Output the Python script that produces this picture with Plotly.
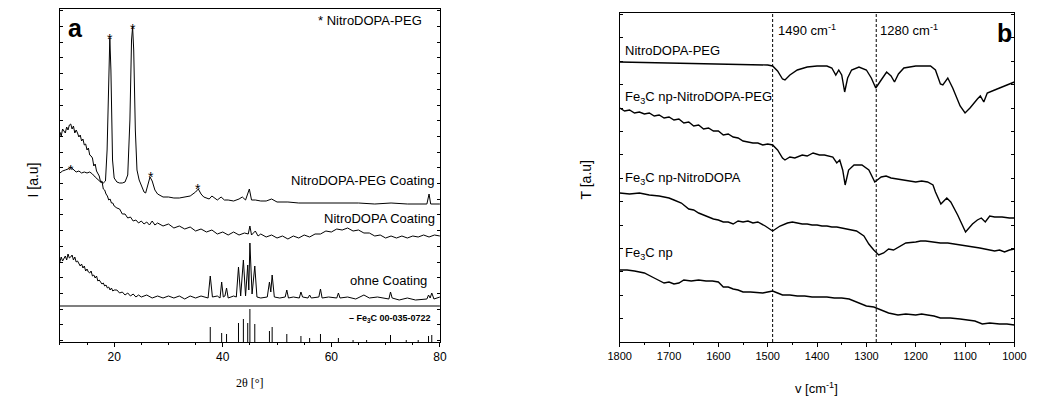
import plotly.graph_objects as go

# ---------------- Panel a : XRD ----------------
two_theta_peg = [10, 10.5, 11, 11.5, 12, 12.5, 13, 13.5, 14, 14.5, 15, 15.5, 16, 16.5, 17, 17.5, 18, 18.4,
                 18.7, 19.0, 19.2, 19.4, 19.7, 20.0, 20.5, 21, 21.5, 22, 22.5, 22.9, 23.2, 23.4, 23.6, 23.9,
                 24.2, 24.6, 25, 25.5, 25.8, 26.2, 26.6, 27.0, 27.5, 28, 29, 30, 31, 32, 33, 34, 35, 35.5,
                 36, 36.5, 37.5, 38, 39, 39.7, 40.3, 41, 42, 43, 43.6, 44.2, 44.9, 45.3, 46, 47, 48, 49, 50,
                 52, 54, 56, 58, 60, 62, 65, 68, 71, 74, 76, 77.6, 78.0, 78.3, 80]
i_peg = [169, 171, 172, 173, 175, 172, 170, 171, 169, 170, 169, 170, 168, 165, 162, 160, 159, 161,
         192, 282, 304, 272, 182, 164, 160, 159, 159, 160, 167, 222, 302, 315, 292, 212,
         172, 162, 156, 150, 149, 156, 165, 161, 152, 148, 145, 145, 144, 144, 145, 146, 150, 153,
         148, 145, 143, 146, 142, 145, 142, 142, 141, 143, 145, 142, 153, 142, 142, 141, 141, 143, 140,
         140, 139, 139, 139, 139, 139, 139, 138, 139, 138, 138, 138, 148, 138, 138]

two_theta_dopa = [10, 10.25, 10.5, 10.75, 11, 11.25, 11.5, 11.75, 12, 12.25, 12.5, 12.75, 13, 13.25, 13.5,
                  13.75, 14, 14.25, 14.5, 14.75, 15, 15.25, 15.5, 15.75, 16, 16.25, 16.5, 16.75, 17, 17.25,
                  17.5, 17.75, 18, 18.25, 18.5, 18.75, 19, 19.25, 19.5, 19.75, 20, 20.5, 21, 21.5, 22, 22.5,
                  23, 23.5, 24, 24.5, 25, 25.5, 26, 26.5, 27, 27.5, 28, 29, 30, 31, 32, 33, 34, 35, 36, 37,
                  38, 39, 40, 41, 42, 43, 44, 44.7, 45.0, 45.3, 46, 46.5, 47, 48, 49, 50, 51, 52, 53, 54, 55,
                  56, 57, 58, 59, 60, 61, 62, 63, 64, 65, 66, 67, 68, 69, 70, 71, 72, 73, 74, 75, 76, 77, 78,
                  79, 80]
i_dopa = [210, 206, 213, 211, 209, 215, 212, 217, 218, 213, 216, 209, 212, 209, 205,
          207, 201, 203, 197, 198, 192, 194, 187, 186, 184, 176, 178, 171, 168, 166,
          160, 161, 153, 152, 148, 146, 142, 143, 139, 139, 136, 134, 133, 128, 128, 124,
          125, 121, 122, 119, 121, 118, 120, 117, 121, 117, 119, 116, 118, 114, 116, 113, 115, 111, 113, 110,
          112, 108, 110, 107, 110, 107, 109, 108, 116, 107, 111, 106, 108, 105, 107, 104, 106, 103, 106, 104, 107,
          105, 108, 108, 111, 110, 113, 112, 114, 111, 112, 109, 109, 106, 107, 104, 106, 104, 106, 104, 106, 105, 107, 105,
          107, 106]

two_theta_bare = [10, 10.25, 10.5, 10.75, 11, 11.25, 11.5, 11.75, 12, 12.25, 12.5, 12.75, 13, 13.25, 13.5,
                  13.75, 14, 14.25, 14.5, 14.75, 15, 15.25, 15.5, 15.75, 16, 16.25, 16.5, 16.75, 17, 17.25,
                  17.5, 17.75, 18, 18.25, 18.5, 18.75, 19, 19.25, 19.5, 19.75, 20, 20.5, 21, 21.5, 22, 22.5,
                  23, 23.5, 24, 24.5, 25, 26, 27, 28, 29, 30, 31, 32, 33, 34, 35, 36, 37.3, 37.7, 38.1, 39,
                  39.5, 39.8, 40.1, 40.4, 40.7, 41.0, 42, 42.5, 42.9, 43.3, 43.8, 44.2, 44.6, 44.8, 45.0, 45.4,
                  45.9, 46.3, 47, 48.2, 48.6, 48.85, 49.1, 49.5, 50.5, 51.5, 51.8, 52.1, 53, 54.1, 54.4, 54.7,
                  55.7, 56.0, 56.3, 57.7, 58.0, 58.3, 59.5, 61.0, 61.3, 61.6, 63, 64.5, 66, 67, 68.5, 70.6,
                  70.9, 71.2, 72.5, 74, 75.5, 77.6, 77.9, 78.2, 78.5, 78.9, 80]
i_bare = [80, 85, 81, 83, 86, 82, 88, 84, 85, 87, 82, 85, 80, 81, 79,
          76, 78, 74, 76, 71, 73, 70, 69, 71, 66, 67, 64, 66, 61, 62,
          60, 58, 59, 56, 57, 54, 55, 52, 54, 51, 52, 52, 49, 50, 47, 49,
          46, 48, 45, 47, 45, 47, 44, 46, 44, 46, 44, 46, 43, 46, 44, 46, 44, 66, 45, 46,
          44, 60, 45, 46, 54, 44, 46, 45, 75, 46, 82, 46, 77, 52, 99, 48,
          76, 45, 44, 45, 60, 50, 67, 45, 44, 45, 52, 44, 45, 44, 50, 45,
          44, 47, 44, 45, 53, 44, 45, 44, 49, 44, 45, 43, 47, 44, 45, 43,
          50, 44, 42, 44, 42, 43, 47, 44, 49, 43, 45]

# Fe3C reference pattern 00-035-0722
ref_pos = [37.7, 39.8, 40.7, 42.9, 43.8, 44.6, 45.0, 45.9, 48.6, 49.1, 51.8, 54.4, 56.0, 58.0, 61.3,
           64.0, 66.5, 70.9, 73.8, 76.0, 77.9, 78.5]
ref_int = [15, 9, 8, 19, 23, 19, 33, 18, 11, 15, 8, 6, 4, 8, 4, 2, 2, 7, 2, 2, 6, 7]

star_x = [12.0, 19.2, 23.4, 26.7, 35.5]
star_y = [176, 307, 317, 169, 157]

x_labels_a = [20, 40, 60, 80]
x_unlabeled_a = [30, 50, 70]

# ---------------- Panel b : IR ----------------
wn_peg = [1800, 1750, 1700, 1650, 1600, 1550, 1500, 1490, 1480, 1470, 1465, 1455, 1440, 1420, 1400, 1380,
          1370, 1362, 1356, 1350, 1344, 1338, 1330, 1315, 1300, 1290, 1281, 1270, 1259, 1250, 1243, 1235,
          1224, 1200, 1170, 1160, 1150, 1145, 1135, 1125, 1110, 1100, 1090, 1075, 1069, 1062, 1055, 1040,
          1020, 1000]
t_peg = [280, 279.5, 279, 278.5, 277.5, 277, 277, 276, 271, 263, 262, 267, 272, 275, 276, 276,
         274, 267, 272, 267, 250, 264, 272, 275, 272, 264, 254, 262, 270, 266, 260, 268,
         274, 276, 276, 272, 258, 257, 264, 254, 236, 229, 234, 243, 246, 240, 249, 252,
         256, 260]

wn_np_peg = [1800, 1790, 1780, 1770, 1760, 1750, 1740, 1730, 1720, 1710, 1700, 1690, 1680, 1670, 1660,
             1650, 1640, 1630, 1620, 1610, 1600, 1590, 1580, 1570, 1560, 1550, 1540, 1530, 1520, 1510,
             1500, 1490, 1480, 1470, 1465, 1455, 1445, 1430, 1420, 1408, 1395, 1385, 1368, 1360, 1354,
             1348, 1343, 1336, 1325, 1309, 1295, 1283, 1270, 1260, 1250, 1235, 1224, 1212, 1200, 1188,
             1176, 1165, 1160, 1149, 1137, 1129, 1115, 1099, 1085, 1075, 1067, 1059, 1050, 1040, 1025,
             1010, 1000]
t_np_peg = [234, 231, 232, 229, 230, 228, 229, 226, 227, 224, 225, 222, 223, 219, 220,
            216, 217, 213, 214, 211, 211, 207, 208, 205, 204, 201, 200, 199, 199, 197,
            198, 197, 192, 184, 182, 185, 184, 187, 186, 189, 187, 187, 185, 179, 182,
            172, 157, 172, 177, 177, 172, 160, 165, 166, 164, 163, 162, 161, 160, 161,
            160, 157, 150, 138, 144, 140, 127, 110, 118, 122, 124, 120, 126, 125, 125,
            124, 124]

wn_np_dopa = [1800, 1780, 1760, 1740, 1720, 1700, 1690, 1675, 1660, 1650, 1640, 1630, 1620, 1610, 1600,
              1590, 1580, 1570, 1560, 1550, 1540, 1530, 1520, 1505, 1490, 1475, 1460, 1450, 1440, 1430,
              1420, 1410, 1400, 1390, 1380, 1370, 1360, 1350, 1340, 1330, 1320, 1305, 1295, 1285, 1275,
              1265, 1255, 1245, 1235, 1220, 1200, 1190, 1180, 1165, 1150, 1135, 1120, 1110, 1100, 1090,
              1080, 1070, 1060, 1050, 1040, 1030, 1020, 1010, 1000]
t_np_dopa = [149, 148, 149, 147, 146, 144, 142, 139, 133, 132, 129, 127, 125, 123, 122,
             120, 120, 118, 121, 120, 121, 119, 120, 116, 111, 116, 119, 120, 119, 118,
             118, 117, 117, 116, 116, 115, 115, 114, 113, 112, 111, 106, 98, 92, 87,
             89, 93, 92, 95, 99, 100, 101, 101, 100, 99, 99, 98, 97, 96, 96,
             95, 94, 93, 92, 91, 92, 90, 92, 93]

wn_np = [1800, 1785, 1770, 1750, 1730, 1710, 1700, 1690, 1680, 1670, 1655, 1640, 1625, 1612, 1600,
         1590, 1580, 1570, 1560, 1550, 1535, 1520, 1510, 1500, 1490, 1480, 1470, 1455, 1440, 1425,
         1410, 1395, 1380, 1365, 1350, 1335, 1320, 1300, 1285, 1270, 1255, 1236, 1220, 1200, 1188,
         1176, 1163, 1150, 1130, 1110, 1095, 1080, 1065, 1050, 1030, 1015, 1000]
t_np = [72, 72, 71, 69, 64, 59, 60, 58, 59, 62, 61, 62, 61, 61, 60,
        55, 55, 53, 52, 50, 50, 49, 49, 50, 51, 49, 47, 47, 46, 46,
        45, 45, 45, 44, 44, 43, 40, 36, 35, 32, 29, 27, 28, 27, 28,
        27, 26, 24, 24, 23, 22, 21, 18, 19, 18, 18, 17]

marker_lines = [1490, 1280]
x_labels_b = [1800, 1700, 1600, 1500, 1400, 1300, 1200, 1100, 1000]

BLACK = "#000000"
SANS = "Liberation Sans, Arial, sans-serif"
SERIF = "Liberation Serif, Times New Roman, serif"

fig = go.Figure()
for xs, ys in [(two_theta_peg, i_peg), (two_theta_dopa, i_dopa), (two_theta_bare, i_bare)]:
    fig.add_trace(go.Scatter(x=xs, y=ys, mode="lines", line=dict(color=BLACK, width=1),
                             xaxis="x", yaxis="y", showlegend=False, hoverinfo="skip"))

# reference sticks
stick_x, stick_y = [], []
for p, h in zip(ref_pos, ref_int):
    stick_x += [p, p, None]
    stick_y += [0, h, None]
fig.add_trace(go.Scatter(x=stick_x, y=stick_y, mode="lines", line=dict(color=BLACK, width=1),
                         xaxis="x", yaxis="y", showlegend=False, hoverinfo="skip"))

for xs, ys in [(wn_peg, t_peg), (wn_np_peg, t_np_peg), (wn_np_dopa, t_np_dopa), (wn_np, t_np)]:
    fig.add_trace(go.Scatter(x=xs, y=ys, mode="lines", line=dict(color=BLACK, width=1.4),
                             xaxis="x2", yaxis="y2", showlegend=False, hoverinfo="skip"))

W, H = 1043, 396
line_common = dict(showline=True, linecolor=BLACK, linewidth=1, showgrid=False, zeroline=False, tickcolor=BLACK)
bare_axis = dict(showline=False, showgrid=False, zeroline=False, tickcolor=BLACK, showticklabels=False)

fig.update_layout(
    width=W, height=H, autosize=False,
    margin=dict(l=0, r=0, t=0, b=0),
    paper_bgcolor="white", plot_bgcolor="white",
    xaxis=dict(domain=[49 / W, 438 / W], range=[10, 80], anchor="y", mirror=True,
               tickvals=x_labels_a, ticks="outside", ticklen=4,
               tickfont=dict(family=SANS, size=12, color=BLACK),
               minor=dict(dtick=5, tick0=10, ticks="outside", ticklen=2, tickcolor=BLACK), **line_common),
    xaxis5=dict(overlaying="x", side="bottom", anchor="y", range=[10, 80], tickvals=x_unlabeled_a,
                ticks="outside", ticklen=4, **bare_axis),
    yaxis=dict(domain=[1 - 342 / H, 1 - 9 / H], range=[0, 333], anchor="x", mirror="ticks",
               tick0=1.5, dtick=15.7, ticks="inside", ticklen=3, showticklabels=False, **line_common),
    xaxis3=dict(overlaying="x", side="top", anchor="y", range=[10, 80], dtick=10, tick0=10,
                ticks="inside", ticklen=3, **bare_axis),
    xaxis2=dict(domain=[622 / W, 1026 / W], range=[1800, 1000], anchor="y2", mirror=True,
                tickvals=x_labels_b, ticks="outside", ticklen=4,
                tickfont=dict(family=SANS, size=11, color=BLACK),
                minor=dict(dtick=50, tick0=1000, ticks="outside", ticklen=2, tickcolor=BLACK), **line_common),
    yaxis2=dict(domain=[1 - 342 / H, 1 - 13 / H], range=[0, 329], anchor="x2", mirror="ticks",
                tick0=0, dtick=23.4, ticks="inside", ticklen=3, showticklabels=False, **line_common),
    xaxis4=dict(overlaying="x2", side="top", anchor="y2", range=[1800, 1000], dtick=50, tick0=1000,
                ticks="inside", ticklen=3, **bare_axis),
)

shapes = [dict(type="line", xref="x domain", yref="y", x0=0, x1=1, y0=36, y1=36,
               line=dict(color=BLACK, width=1.2))]
for wn in marker_lines:
    shapes.append(dict(type="line", xref="x2", yref="y2 domain", x0=wn, x1=wn, y0=0, y1=1,
                       line=dict(color=BLACK, width=1, dash="3px,2px")))
fig.update_layout(shapes=shapes)

ann = []
def txt(x, y, s, xref, yref, size=13, xanchor="left", yanchor="middle", family=SANS, textangle=0):
    ann.append(dict(x=x, y=y, xref=xref, yref=yref, text=s, showarrow=False, xanchor=xanchor,
                    yanchor=yanchor, textangle=textangle, font=dict(family=family, size=size, color=BLACK)))

# panel a texts
txt(12.8, 314, "<b>a</b>", "x", "y", size=25, xanchor="center")
txt(77.1, 321, "* NitroDOPA-PEG", "x", "y", size=13, xanchor="right")
txt(79.5, 162, "NitroDOPA-PEG Coating", "x", "y", size=13, xanchor="right")
txt(79.5, 124, "NitroDOPA Coating", "x", "y", size=13, xanchor="right")
txt(77.9, 62, "ohne Coating", "x", "y", size=13, xanchor="right")
txt(78.8, 24, "<b>– Fe<sub>3</sub>C 00-035-0722</b>", "x", "y", size=9, xanchor="right")
for sx, sy in zip(star_x, star_y):
    txt(sx, sy - 4, "*", "x", "y", size=14, xanchor="center")
txt(21 / W, 1 - 180 / H, "I [a.u]", "paper", "paper", size=14, xanchor="center", textangle=-90)
txt(244 / W, 1 - 383 / H, "2θ [°]", "paper", "paper", size=12, xanchor="center", family=SERIF)

# panel b texts
txt(1794, 292, "NitroDOPA-PEG", "x2", "y2", size=13)
txt(1794, 245, "Fe<sub>3</sub>C np-NitroDOPA-PEG", "x2", "y2", size=13)
txt(1794, 164, "Fe<sub>3</sub>C np-NitroDOPA", "x2", "y2", size=13)
txt(1794, 89, "Fe<sub>3</sub>C np", "x2", "y2", size=13)
txt(1484, 312, "1490 cm<sup>-1</sup>", "x2", "y2", size=13)
txt(1277, 312, "1280 cm<sup>-1</sup>", "x2", "y2", size=13)
txt(1020, 309, "<b>b</b>", "x2", "y2", size=25, xanchor="center")
txt(588 / W, 1 - 180 / H, "T [a.u]", "paper", "paper", size=14, xanchor="center", textangle=-90)
txt(823 / W, 1 - 388 / H, "v [cm<sup>-1</sup>]", "paper", "paper", size=13, xanchor="center")

fig.update_layout(annotations=ann)
fig.write_html("out.html", config={"displayModeBar": False},
               post_script="document.body.style.margin='0';document.body.style.overflow='hidden';")
